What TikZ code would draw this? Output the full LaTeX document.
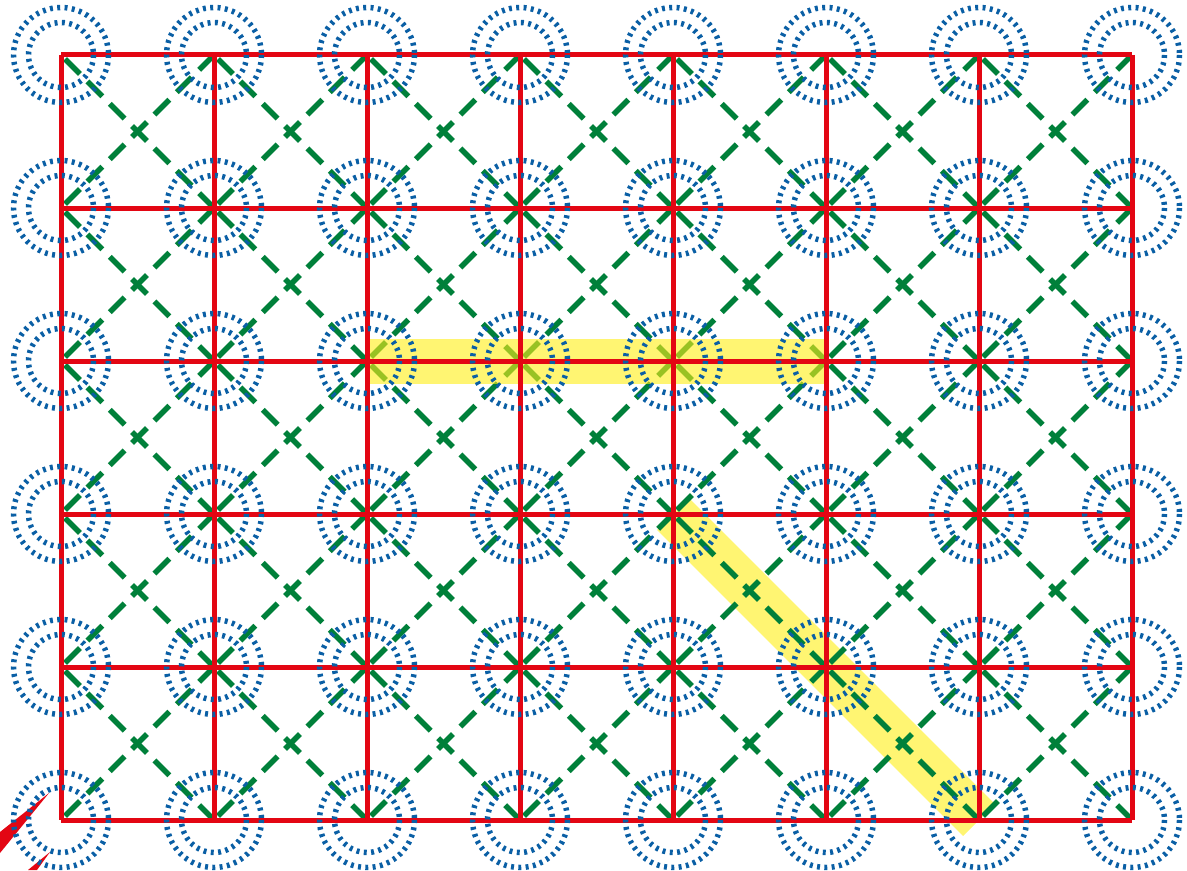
\documentclass[tikz,border=0pt]{standalone}
\definecolor{gridred}{RGB}{227,6,19}
\definecolor{diaggreen}{RGB}{0,128,58}
\definecolor{ringblue}{RGB}{10,95,165}
\definecolor{hl}{RGB}{255,238,20}
\begin{document}
\begin{tikzpicture}[x=0.75pt,y=-0.75pt,
  gridline/.style={gridred,line width=3.75pt},
  diagline/.style={diaggreen,line width=4.2pt,dash pattern=on 15.75pt off 7.95pt},
  ring/.style={ringblue,line width=4.1pt,dash pattern=on 2.2pt off 3.3pt},
  hilite/.style={hl,opacity=0.6,line width=33.75pt}]
\useasboundingbox (0,0) rectangle (1187,870);
\foreach \i in {0,...,7}
  \foreach \j in {0,...,5}
    \coordinate (p\i-\j) at ({61+153*\i},{55+153*\j});
% diagonal highlight (below green)
\draw[hilite] (p4-3) -- (p6-5);
% green dashed diagonals, one pair per cell
\foreach \i in {0,...,6}
  \foreach \j in {0,...,4} {
    \pgfmathtruncatemacro\ii{\i+1}
    \pgfmathtruncatemacro\jj{\j+1}
    \draw[diagline] (p\ii-\jj) -- (p\i-\j);
    \draw[diagline] (p\ii-\j) -- (p\i-\jj);
  }
% horizontal highlight (above green)
\draw[hilite] (p2-2) -- (p5-2);
% red grid
\foreach \i in {0,...,7}
  \draw[gridline] (p\i-0) -- (p\i-5);
\foreach \j in {0,...,5}
  \draw[gridline] (p0-\j) -- (p7-\j);
% red wedges at bottom left
\coordinate (w1a) at (0,832);
\coordinate (w1b) at (49,793);
\coordinate (w1c) at (0,853);
\fill[gridred] (w1a) -- (w1b) -- (w1c) -- cycle;
\coordinate (w2a) at (28,870);
\coordinate (w2b) at (50,852);
\coordinate (w2c) at (37,870);
\fill[gridred] (w2a) -- (w2b) -- (w2c) -- cycle;
% blue dotted rings
\foreach \i in {0,...,7}
  \foreach \j in {0,...,5} {
    \draw[ring] (p\i-\j) circle (47.5);
    \draw[ring] (p\i-\j) circle (32.5);
  }
\end{tikzpicture}
\end{document}
